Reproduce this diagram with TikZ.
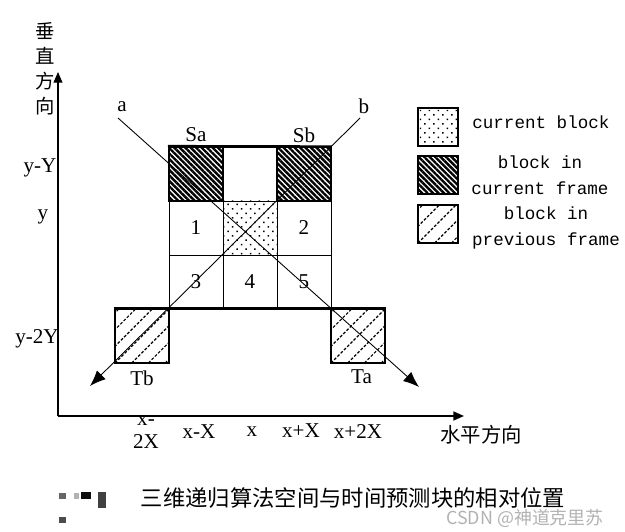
\documentclass[tikz,border=0pt]{standalone}
\usepackage{fontspec}
\setmainfont{Liberation Serif}
\newfontfamily\cjk{Noto Sans CJK SC}
\newfontfamily\legfont{Liberation Mono}
\usetikzlibrary{patterns.meta,arrows.meta,calc,positioning}

\begin{document}
\begin{tikzpicture}[
	cell/.style={draw, line width=0.5pt, minimum width=1.08cm, minimum height=1.08cm, inner sep=0pt, font=\fontsize{12}{12}\selectfont},
	legbox/.style={draw, line width=0.8pt, minimum width=0.8cm, minimum height=0.76cm, inner sep=0pt},
	curblock/.style={pattern={Dots[distance=3.6pt, angle=45, radius=0.6pt]}},
	curframe/.style={line width=0.9pt, pattern={Lines[angle=-45, distance=2.2pt, line width=1.35pt]}},
	prevframe/.style={line width=0.9pt, path picture={
		\foreach \k in {-3,...,3}
			\draw[line width=0.65pt, dash pattern=on 1.6pt off 1pt] ($(path picture bounding box.south west)+(\k*0.334,0)$) -- ++(1.3,1.3);}},
	lbl/.style={font=\fontsize{12}{12}\selectfont, inner sep=1pt},
	legtext/.style={font=\legfont\fontsize{10}{14.7}\selectfont, align=center, inner sep=0pt},
	dirline/.style={line width=0.5pt, -{Latex[length=9pt, width=7pt]}},
	axis/.style={-{Triangle[length=6pt, width=5pt]}}
]
	\useasboundingbox (0,0) rectangle (12.5,10.62);
	
	% axes
	\coordinate (O) at (1.16,2.30);
	\coordinate (ytip) at (1.16,9.18);
	\coordinate (xtip) at (9.28,2.30);
	\draw[axis, line width=0.6pt] (O) -- (ytip);
	\draw[axis, line width=1pt] (O) -- (xtip);
	\node[font=\cjk\fontsize{11}{14.2}\selectfont, align=center] (vlab) at (0.90,9.24) {垂\\直\\方\\向};
	\node[font=\cjk\fontsize{11.6}{12}\selectfont] (hlab) at (9.62,1.92) {水平方向};
	
	\node[lbl] (yY) at (0.80,7.26) {y-Y};
	\node[lbl] (yy) at (0.86,6.28) {y};
	\node[lbl] (y2Y) at (0.74,3.84) {y-2Y};
	\node[lbl, align=center, font=\fontsize{12}{13}\selectfont] (x2X) at (2.92,1.98) {x-\\2X};
	\node[lbl] (xX) at (3.98,1.98) {x-X};
	\node[lbl] (xx) at (5.04,1.98) {x};
	\node[lbl] (xpX) at (6.02,2.00) {x+X};
	\node[lbl] (xp2X) at (7.16,1.98) {x+2X};
	
	% blocks
	\node[cell, curframe] (Sa) at (3.92,7.14) {};
	\node[cell] (top) at (5.00,7.14) {};
	\node[cell, curframe] (Sb) at (6.08,7.14) {};
	\node[cell] (c1) at (3.92,6.06) {1};
	\node[cell, curblock] (cur) at (5.00,6.06) {};
	\node[cell] (c2) at (6.08,6.06) {2};
	\node[cell] (c3) at (3.92,4.98) {3};
	\node[cell] (c4) at (5.00,4.98) {4};
	\node[cell] (c5) at (6.08,4.98) {5};
	\node[cell, prevframe] (Tb) at (2.84,3.90) {};
	\node[cell, prevframe] (Ta) at (7.16,3.90) {};
	\draw[line width=1pt] (Sa.north west) -- (Sb.north east);
	\draw[line width=1pt] (Tb.north west) -- (Ta.north east);
	
	\node[lbl, above=1pt of Sa] (lSa) {Sa};
	\node[lbl, above=1pt of Sb] (lSb) {Sb};
	\node[lbl, below=3pt of Tb] (lTb) {Tb};
	\node[lbl, below=2pt of Ta, xshift=2pt] (lTa) {Ta};
	
	% directions
	\coordinate (a) at (2.36,8.26);
	\coordinate (aend) at (8.38,2.88);
	\coordinate (b) at (7.20,8.26);
	\coordinate (bend) at (1.80,2.90);
	\draw[dirline] (a) -- (aend);
	\draw[dirline] (b) -- (bend);
	\node[lbl] (la) at (2.44,8.48) {a};
	\node[lbl] (lb) at (7.28,8.50) {b};
	
	% legend
	\node[legbox, curblock] (k1) at (8.76,8.08) {};
	\node[legbox, curframe] (k2) at (8.76,7.12) {};
	\node[legbox, prevframe] (k3) at (8.76,6.14) {};
	\node[legtext, anchor=west] (t1) at (9.44,8.18) {current block};
	\node[legtext] (t2) at (10.80,7.12) {block in\\current frame};
	\node[legtext] (t3) at (10.92,6.06) {block in\\previous frame};
	
	% caption
	\fill[black!60] (1.17,0.64) rectangle (1.31,0.77);
	\fill[black!30] (1.47,0.64) rectangle (1.57,0.77);
	\fill[black!95] (1.62,0.64) rectangle (1.81,0.78);
	\fill[black!75] (1.96,0.46) rectangle (2.12,0.78);
	\fill[black!70] (1.17,0.16) rectangle (1.31,0.28);
	\node[font=\cjk\fontsize{12.7}{13}\selectfont] (cap) at (7.06,0.66) {三维递归算法空间与时间预测块的相对位置};
	\node[font=\cjk\fontsize{10.2}{11}\selectfont, text=black!30] (wm) at (10.50,0.26) {CSDN @神道克里苏};
\end{tikzpicture}
\end{document}
